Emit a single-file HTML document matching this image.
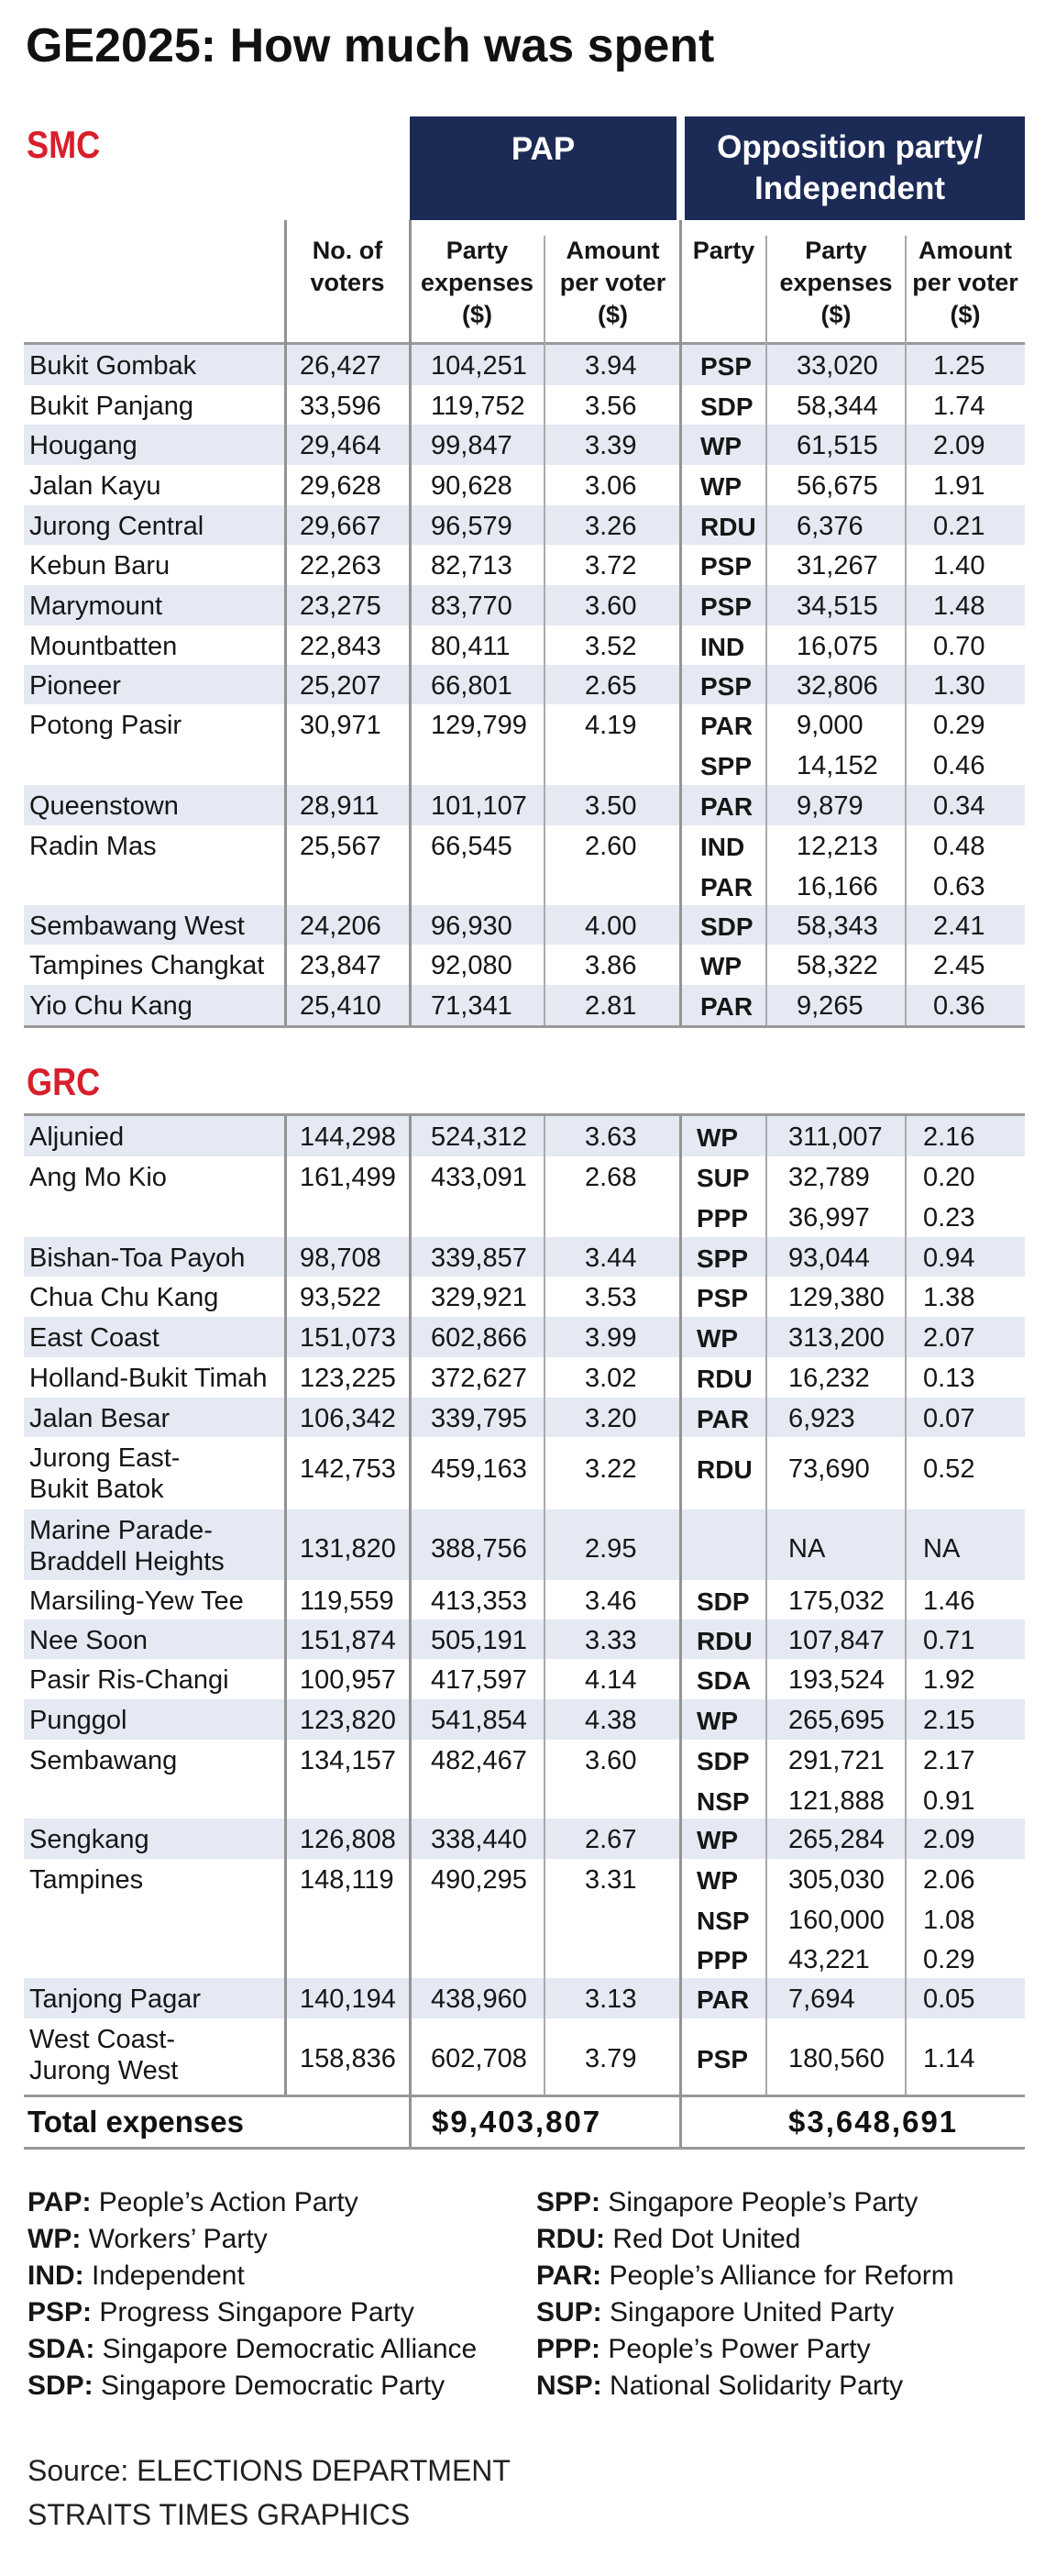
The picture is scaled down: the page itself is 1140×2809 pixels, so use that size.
<!DOCTYPE html>
<html><head><meta charset="utf-8">
<style>
*{margin:0;padding:0;box-sizing:border-box}
html,body{width:1140px;height:2809px;background:#fff;overflow:hidden}
#w{position:relative;width:1140px;height:2809px;font-family:"Liberation Sans",Arial,sans-serif;color:#161616}
.abs{position:absolute;white-space:nowrap}
.title{left:28px;top:20px;font-size:52px;line-height:60px;font-weight:bold;color:#111}
.sec{left:29px;font-size:42px;line-height:50px;font-weight:bold;color:#d71f2b;transform:scaleX(.86);transform-origin:0 0}
.box{position:absolute;background:#1c2a56;top:127px;height:113px}
.bt{color:#fff;font-weight:bold;font-size:35px;text-align:center}
.hd{position:absolute;top:256px;font-weight:bold;font-size:27px;line-height:35px;text-align:center;color:#161616}
.r{position:absolute;left:26px;width:1092px}
.r i{position:absolute;top:2px;font-style:normal;white-space:nowrap;font-size:29px;line-height:43.6px}
.b1{background:#e4e9f3}
.n{left:6px}.v{left:301px}.e{left:444px}.a{left:612px}
.p{left:738px;font-weight:bold;font-size:28px!important}
.oe{left:843px}.oa{left:992px}
.g .p{left:734px}.g .oe{left:834px}.g .oa{left:981px}
.r i.n2{line-height:34px;top:6px}
.hl{position:absolute;left:26px;width:1092px;height:3px;background:#999}
.vk{position:absolute;width:3px;background:#939393}
.vt{position:absolute;width:2px;background:#aaa}
.leg{position:absolute;font-size:30px;line-height:40px;color:#161616;white-space:nowrap}
.leg b{font-weight:bold}
</style></head><body><div id="w">

<div class="abs title">GE2025: How much was spent</div>
<div class="abs sec" style="top:133px">SMC</div>

<div class="box" style="left:447px;width:291px"></div>
<div class="box" style="left:747px;width:371px"></div>
<div class="abs bt" style="left:447px;width:291px;top:143px;line-height:40px">PAP</div>
<div class="abs bt" style="left:747px;width:360px;top:138px;line-height:45px">Opposition party/<br>Independent</div>

<div class="hd" style="left:311px;width:136px">No. of<br>voters</div>
<div class="hd" style="left:447px;width:147px">Party<br>expenses<br>($)</div>
<div class="hd" style="left:594px;width:149px">Amount<br>per voter<br>($)</div>
<div class="hd" style="left:743px;width:93px">Party</div>
<div class="hd" style="left:836px;width:152px">Party<br>expenses<br>($)</div>
<div class="hd" style="left:988px;width:130px">Amount<br>per voter<br>($)</div>

<!-- SMC rows -->
<div class="r b1" style="top:376px;height:44px"><i class="n">Bukit Gombak</i><i class="v">26,427</i><i class="e">104,251</i><i class="a">3.94</i><i class="p">PSP</i><i class="oe">33,020</i><i class="oa">1.25</i></div>
<div class="r" style="top:420px;height:43px"><i class="n">Bukit Panjang</i><i class="v">33,596</i><i class="e">119,752</i><i class="a">3.56</i><i class="p">SDP</i><i class="oe">58,344</i><i class="oa">1.74</i></div>
<div class="r b1" style="top:463px;height:44px"><i class="n">Hougang</i><i class="v">29,464</i><i class="e">99,847</i><i class="a">3.39</i><i class="p">WP</i><i class="oe">61,515</i><i class="oa">2.09</i></div>
<div class="r" style="top:507px;height:44px"><i class="n">Jalan Kayu</i><i class="v">29,628</i><i class="e">90,628</i><i class="a">3.06</i><i class="p">WP</i><i class="oe">56,675</i><i class="oa">1.91</i></div>
<div class="r b1" style="top:551px;height:43px"><i class="n">Jurong Central</i><i class="v">29,667</i><i class="e">96,579</i><i class="a">3.26</i><i class="p">RDU</i><i class="oe">6,376</i><i class="oa">0.21</i></div>
<div class="r" style="top:594px;height:44px"><i class="n">Kebun Baru</i><i class="v">22,263</i><i class="e">82,713</i><i class="a">3.72</i><i class="p">PSP</i><i class="oe">31,267</i><i class="oa">1.40</i></div>
<div class="r b1" style="top:638px;height:44px"><i class="n">Marymount</i><i class="v">23,275</i><i class="e">83,770</i><i class="a">3.60</i><i class="p">PSP</i><i class="oe">34,515</i><i class="oa">1.48</i></div>
<div class="r" style="top:682px;height:43px"><i class="n">Mountbatten</i><i class="v">22,843</i><i class="e">80,411</i><i class="a">3.52</i><i class="p">IND</i><i class="oe">16,075</i><i class="oa">0.70</i></div>
<div class="r b1" style="top:725px;height:43px"><i class="n">Pioneer</i><i class="v">25,207</i><i class="e">66,801</i><i class="a">2.65</i><i class="p">PSP</i><i class="oe">32,806</i><i class="oa">1.30</i></div>
<div class="r" style="top:768px;height:88px"><i class="n">Potong Pasir</i><i class="v">30,971</i><i class="e">129,799</i><i class="a">4.19</i><i class="p">PAR<br>SPP</i><i class="oe">9,000<br>14,152</i><i class="oa">0.29<br>0.46</i></div>
<div class="r b1" style="top:856px;height:44px"><i class="n">Queenstown</i><i class="v">28,911</i><i class="e">101,107</i><i class="a">3.50</i><i class="p">PAR</i><i class="oe">9,879</i><i class="oa">0.34</i></div>
<div class="r" style="top:900px;height:87px"><i class="n">Radin Mas</i><i class="v">25,567</i><i class="e">66,545</i><i class="a">2.60</i><i class="p">IND<br>PAR</i><i class="oe">12,213<br>16,166</i><i class="oa">0.48<br>0.63</i></div>
<div class="r b1" style="top:987px;height:43px"><i class="n">Sembawang West</i><i class="v">24,206</i><i class="e">96,930</i><i class="a">4.00</i><i class="p">SDP</i><i class="oe">58,343</i><i class="oa">2.41</i></div>
<div class="r" style="top:1030px;height:44px"><i class="n">Tampines Changkat</i><i class="v">23,847</i><i class="e">92,080</i><i class="a">3.86</i><i class="p">WP</i><i class="oe">58,322</i><i class="oa">2.45</i></div>
<div class="r b1" style="top:1074px;height:44px"><i class="n">Yio Chu Kang</i><i class="v">25,410</i><i class="e">71,341</i><i class="a">2.81</i><i class="p">PAR</i><i class="oe">9,265</i><i class="oa">0.36</i></div>

<div class="abs sec" style="top:1155px">GRC</div>

<!-- GRC rows -->
<div class="r g b1" style="top:1217px;height:44px"><i class="n">Aljunied</i><i class="v">144,298</i><i class="e">524,312</i><i class="a">3.63</i><i class="p">WP</i><i class="oe">311,007</i><i class="oa">2.16</i></div>
<div class="r g" style="top:1261px;height:88px"><i class="n">Ang Mo Kio</i><i class="v">161,499</i><i class="e">433,091</i><i class="a">2.68</i><i class="p">SUP<br>PPP</i><i class="oe">32,789<br>36,997</i><i class="oa">0.20<br>0.23</i></div>
<div class="r g b1" style="top:1349px;height:43px"><i class="n">Bishan-Toa Payoh</i><i class="v">98,708</i><i class="e">339,857</i><i class="a">3.44</i><i class="p">SPP</i><i class="oe">93,044</i><i class="oa">0.94</i></div>
<div class="r g" style="top:1392px;height:44px"><i class="n">Chua Chu Kang</i><i class="v">93,522</i><i class="e">329,921</i><i class="a">3.53</i><i class="p">PSP</i><i class="oe">129,380</i><i class="oa">1.38</i></div>
<div class="r g b1" style="top:1436px;height:44px"><i class="n">East Coast</i><i class="v">151,073</i><i class="e">602,866</i><i class="a">3.99</i><i class="p">WP</i><i class="oe">313,200</i><i class="oa">2.07</i></div>
<div class="r g" style="top:1480px;height:44px"><i class="n">Holland-Bukit Timah</i><i class="v">123,225</i><i class="e">372,627</i><i class="a">3.02</i><i class="p">RDU</i><i class="oe">16,232</i><i class="oa">0.13</i></div>
<div class="r g b1" style="top:1524px;height:43px"><i class="n">Jalan Besar</i><i class="v">106,342</i><i class="e">339,795</i><i class="a">3.20</i><i class="p">PAR</i><i class="oe">6,923</i><i class="oa">0.07</i></div>
<div class="r g" style="top:1567px;height:79px"><i class="n n2">Jurong East-<br>Bukit Batok</i><i class="v" style="top:14px">142,753</i><i class="e" style="top:14px">459,163</i><i class="a" style="top:14px">3.22</i><i class="p" style="top:14px">RDU</i><i class="oe" style="top:14px">73,690</i><i class="oa" style="top:14px">0.52</i></div>
<div class="r g b1" style="top:1646px;height:77px"><i class="n n2">Marine Parade-<br>Braddell Heights</i><i class="v" style="top:22px">131,820</i><i class="e" style="top:22px">388,756</i><i class="a" style="top:22px">2.95</i><i class="oe" style="top:22px">NA</i><i class="oa" style="top:22px">NA</i></div>
<div class="r g" style="top:1723px;height:43px"><i class="n">Marsiling-Yew Tee</i><i class="v">119,559</i><i class="e">413,353</i><i class="a">3.46</i><i class="p">SDP</i><i class="oe">175,032</i><i class="oa">1.46</i></div>
<div class="r g b1" style="top:1766px;height:43px"><i class="n">Nee Soon</i><i class="v">151,874</i><i class="e">505,191</i><i class="a">3.33</i><i class="p">RDU</i><i class="oe">107,847</i><i class="oa">0.71</i></div>
<div class="r g" style="top:1809px;height:44px"><i class="n">Pasir Ris-Changi</i><i class="v">100,957</i><i class="e">417,597</i><i class="a">4.14</i><i class="p">SDA</i><i class="oe">193,524</i><i class="oa">1.92</i></div>
<div class="r g b1" style="top:1853px;height:44px"><i class="n">Punggol</i><i class="v">123,820</i><i class="e">541,854</i><i class="a">4.38</i><i class="p">WP</i><i class="oe">265,695</i><i class="oa">2.15</i></div>
<div class="r g" style="top:1897px;height:86px"><i class="n">Sembawang</i><i class="v">134,157</i><i class="e">482,467</i><i class="a">3.60</i><i class="p">SDP<br>NSP</i><i class="oe">291,721<br>121,888</i><i class="oa">2.17<br>0.91</i></div>
<div class="r g b1" style="top:1983px;height:44px"><i class="n">Sengkang</i><i class="v">126,808</i><i class="e">338,440</i><i class="a">2.67</i><i class="p">WP</i><i class="oe">265,284</i><i class="oa">2.09</i></div>
<div class="r g" style="top:2027px;height:130px"><i class="n">Tampines</i><i class="v">148,119</i><i class="e">490,295</i><i class="a">3.31</i><i class="p">WP<br>NSP<br>PPP</i><i class="oe">305,030<br>160,000<br>43,221</i><i class="oa">2.06<br>1.08<br>0.29</i></div>
<div class="r g b1" style="top:2157px;height:44px"><i class="n">Tanjong Pagar</i><i class="v">140,194</i><i class="e">438,960</i><i class="a">3.13</i><i class="p">PAR</i><i class="oe">7,694</i><i class="oa">0.05</i></div>
<div class="r g" style="top:2201px;height:83px"><i class="n n2">West Coast-<br>Jurong West</i><i class="v" style="top:23px">158,836</i><i class="e" style="top:23px">602,708</i><i class="a" style="top:23px">3.79</i><i class="p" style="top:23px">PSP</i><i class="oe" style="top:23px">180,560</i><i class="oa" style="top:23px">1.14</i></div>

<!-- Total row -->
<div class="abs" style="left:30px;top:2294px;font-size:33px;line-height:40px;font-weight:bold;color:#111">Total expenses</div>
<div class="abs" style="left:471px;top:2294px;font-size:33px;line-height:40px;font-weight:bold;letter-spacing:2px;color:#111">$9,403,807</div>
<div class="abs" style="left:860px;top:2294px;font-size:33px;line-height:40px;font-weight:bold;letter-spacing:2px;color:#111">$3,648,691</div>

<!-- horizontal lines -->
<div class="hl" style="top:373px"></div>
<div class="hl" style="top:1118px"></div>
<div class="hl" style="top:1214px"></div>
<div class="hl" style="top:2284px"></div>
<div class="hl" style="top:2341px"></div>

<!-- SMC verticals -->
<div class="vk" style="left:310px;top:240px;height:878px"></div>
<div class="vk" style="left:446px;top:240px;height:878px"></div>
<div class="vk" style="left:741px;top:240px;height:878px"></div>
<div class="vt" style="left:593px;top:257px;height:861px"></div>
<div class="vt" style="left:835px;top:257px;height:861px"></div>
<div class="vt" style="left:987px;top:257px;height:861px"></div>

<!-- GRC verticals -->
<div class="vk" style="left:310px;top:1217px;height:1067px"></div>
<div class="vk" style="left:446px;top:1217px;height:1124px"></div>
<div class="vk" style="left:741px;top:1217px;height:1124px"></div>
<div class="vt" style="left:593px;top:1217px;height:1067px"></div>
<div class="vt" style="left:835px;top:1217px;height:1067px"></div>
<div class="vt" style="left:987px;top:1217px;height:1067px"></div>

<!-- Legend -->
<div class="leg" style="left:30px;top:2382px">
<b>PAP:</b> People’s Action Party<br>
<b>WP:</b> Workers’ Party<br>
<b>IND:</b> Independent<br>
<b>PSP:</b> Progress Singapore Party<br>
<b>SDA:</b> Singapore Democratic Alliance<br>
<b>SDP:</b> Singapore Democratic Party
</div>
<div class="leg" style="left:585px;top:2382px">
<b>SPP:</b> Singapore People’s Party<br>
<b>RDU:</b> Red Dot United<br>
<b>PAR:</b> People’s Alliance for Reform<br>
<b>SUP:</b> Singapore United Party<br>
<b>PPP:</b> People’s Power Party<br>
<b>NSP:</b> National Solidarity Party
</div>

<div class="abs" style="left:30px;top:2670px;font-size:32px;line-height:48px;color:#222">Source: ELECTIONS DEPARTMENT<br>STRAITS TIMES GRAPHICS</div>

</div></body></html>
